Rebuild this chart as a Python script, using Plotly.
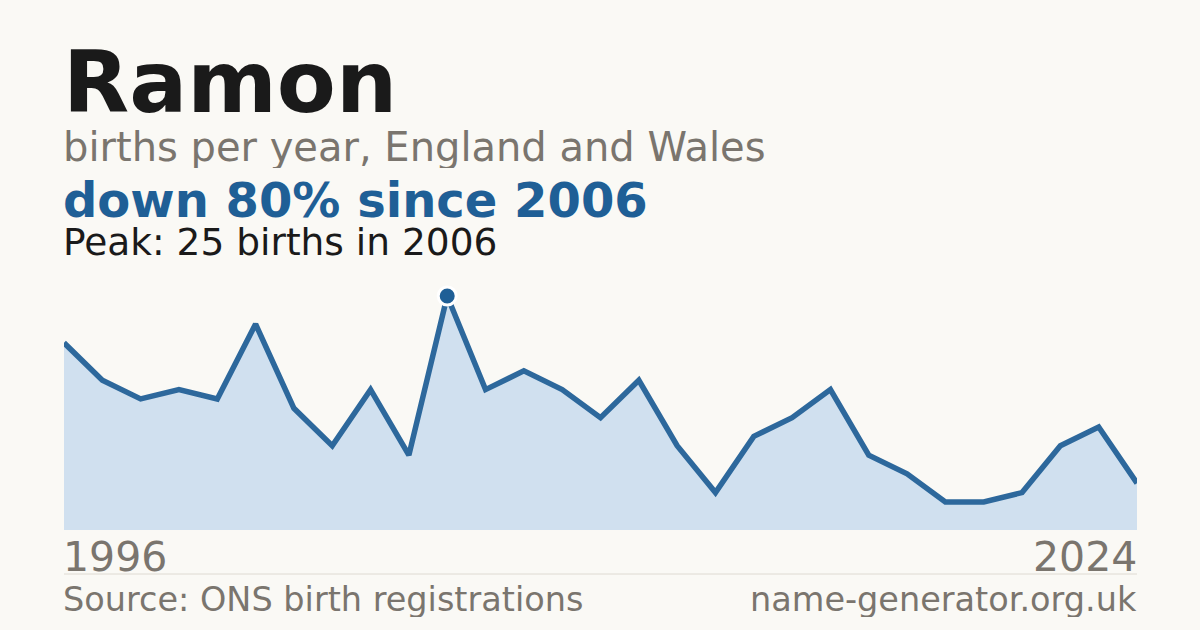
import plotly.graph_objects as go

years = list(range(1996, 2025))
births = [20, 16, 14, 15, 14, 22, 13, 9, 15, 8, 25, 15, 17, 15, 12, 16,
          9, 4, 10, 12, 15, 8, 6, 3, 3, 4, 9, 11, 5]
peak_year = 2006
peak_value = 25
title_text = "Ramon"
subtitle_text = "births per year, England and Wales"
headline_text = "down 80% since 2006"
peak_text = "Peak: 25 births in 2006"
start_label = "1996"
end_label = "2024"
source_text = "Source: ONS birth registrations"
site_text = "name-generator.org.uk"

W, H = 1200, 630
L, R = 64, 1137
TOP, BOT = 296, 530
BG = "#faf9f5"
BLUE = "#1f5f96"
GREY = "#7a756e"
FONT = "DejaVu Sans"


def px(x):
    return (x - L) / (R - L)


def py(y):
    return (BOT - y) / (BOT - TOP)


fig = go.Figure()
fig.add_trace(go.Scatter(
    x=years, y=births, mode="lines",
    line=dict(color="#2d689c", width=5.5),
    fill="tozeroy", fillcolor="#d0e0ef",
    hoverinfo="skip", cliponaxis=False,
))
fig.add_trace(go.Scatter(
    x=[peak_year], y=[peak_value], mode="markers",
    marker=dict(size=18, color=BLUE, line=dict(color="white", width=3)),
    hoverinfo="skip", cliponaxis=False,
))

anns = [
    (title_text, 61, 82, 86, "#1a1a1a", True, "left"),
    (subtitle_text, 61, 146, 40, GREY, False, "left"),
    (headline_text, 61, 200, 48, BLUE, True, "left"),
    (peak_text, 61, 242, 37.5, "#1a1a1a", False, "left"),
    (start_label, 61, 557, 41, GREY, False, "left"),
    (end_label, 1139, 557, 41, GREY, False, "right"),
    (source_text, 61, 599, 33.5, GREY, False, "left"),
    (site_text, 1139, 599, 33.5, GREY, False, "right"),
]
for text, x, y, size, color, bold, anchor in anns:
    fig.add_annotation(
        text=f"<b>{text}</b>" if bold else text,
        xref="paper", yref="paper", x=px(x), y=py(y),
        xanchor=anchor, yanchor="middle", showarrow=False,
        height=round(size * 1.08), valign="middle",
        font=dict(family=FONT, size=size, color=color),
    )

fig.add_shape(type="line", xref="paper", yref="y", x0=0, x1=1, y0=0, y1=0,
              line=dict(color="#e2ddd3", width=1.5), layer="below")
fig.add_shape(type="line", xref="paper", yref="paper", x0=0, x1=1,
              y0=py(574), y1=py(574), line=dict(color="#dedad2", width=1))

fig.update_layout(
    width=W, height=H,
    margin=dict(l=L, r=W - R, t=TOP, b=H - BOT),
    paper_bgcolor=BG, plot_bgcolor=BG,
    showlegend=False,
    xaxis=dict(range=[years[0], years[-1]], visible=False, fixedrange=True),
    yaxis=dict(range=[0, peak_value], visible=False, fixedrange=True),
    font=dict(family=FONT),
)
fig.write_html("out.html", config={"displayModeBar": False},
               post_script="document.body.style.margin='0';document.body.style.background='#faf9f5';")
